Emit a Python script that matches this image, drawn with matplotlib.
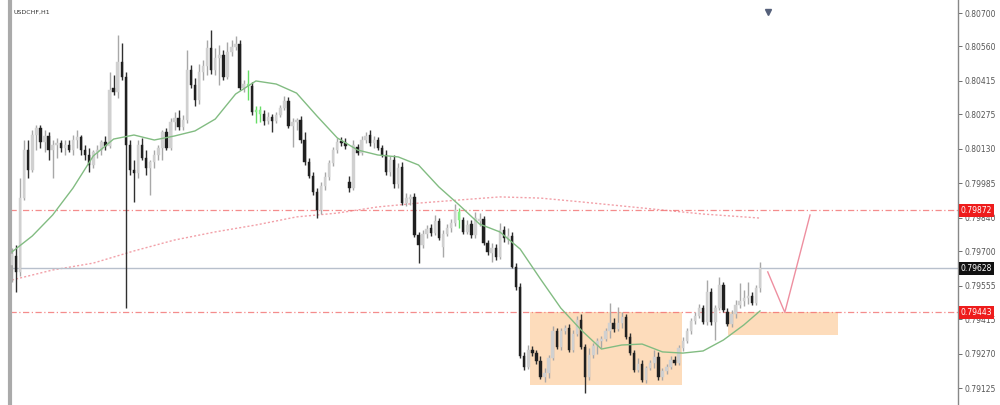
import numpy as np
import matplotlib.pyplot as plt

# USDCHF H1 candles, prices in points (1e-5)
open_pts = [
    79642, 79680, 79613, 79923, 80125, 80041, 80188, 80217, 80159, 80184,
    80125, 80146, 80154, 80133, 80146, 80125, 80167, 80180, 80125, 80104,
    80062, 80117, 80125, 80159, 80142, 80385, 80369, 80495, 80432, 80146,
    80041, 80028, 80146, 80091, 80049, 80075, 80104, 80133, 80201, 80133,
    80243, 80259, 80222, 80251, 80461, 80398, 80335, 80453, 80478, 80553,
    80461, 80511, 80524, 80432, 80537, 80558, 80570, 80385, 80402, 80394,
    80285, 80293, 80276, 80247, 80264, 80247, 80272, 80301, 80331, 80226,
    80243, 80251, 80167, 80075, 80016, 79949, 79873, 79974, 80012, 80070,
    80125, 80163, 80154, 79991, 79965, 80138, 80112, 80167, 80188, 80154,
    80167, 80133, 80104, 80033, 80083, 79982, 80054, 79902, 79919, 79928,
    79768, 79726, 79772, 79797, 79776, 79827, 79718, 79772, 79797, 79818,
    79865, 79831, 79781, 79814, 79768, 79827, 79835, 79734, 79692, 79713,
    79676, 79789, 79747, 79764, 79634, 79550, 79260, 79214, 79285, 79272,
    79239, 79172, 79188, 79251, 79365, 79298, 79365, 79377, 79285, 79352,
    79411, 79298, 79172, 79264, 79302, 79323, 79331, 79365, 79398, 79373,
    79398, 79424, 79340, 79272, 79201, 79226, 79159, 79209, 79230, 79256,
    79172, 79197, 79214, 79243, 79230, 79293, 79323, 79365, 79407, 79428,
    79461, 79403, 79529, 79403, 79461, 79558, 79445, 79395, 79436, 79474,
    79491, 79503, 79512, 79482, 79545,
]
high_pts = [
    79713, 79726, 80007, 80167, 80167, 80209, 80230, 80230, 80209, 80201,
    80167, 80176, 80167, 80167, 80167, 80188, 80209, 80188, 80146, 80133,
    80125, 80146, 80167, 80184, 80453, 80440, 80608, 80574, 80453, 80167,
    80083, 80167, 80176, 80125, 80083, 80125, 80146, 80209, 80217, 80259,
    80285, 80293, 80272, 80545, 80482, 80427, 80486, 80503, 80587, 80629,
    80553, 80566, 80545, 80579, 80587, 80604, 80587, 80419, 80461, 80411,
    80310, 80310, 80293, 80285, 80276, 80285, 80314, 80352, 80348, 80259,
    80259, 80268, 80201, 80091, 80033, 79965, 79991, 80033, 80083, 80138,
    80176, 80180, 80176, 80016, 80167, 80150, 80184, 80201, 80209, 80184,
    80180, 80146, 80125, 80100, 80104, 80070, 80075, 79944, 79940, 79944,
    79781, 79789, 79810, 79814, 79852, 79839, 79789, 79814, 79835, 79898,
    79881, 79844, 79831, 79831, 79865, 79860, 79848, 79747, 79734, 79730,
    79818, 79806, 79797, 79781, 79650, 79566, 79277, 79306, 79302, 79285,
    79260, 79209, 79264, 79386, 79377, 79377, 79390, 79395, 79369, 79428,
    79436, 79310, 79293, 79314, 79335, 79344, 79377, 79482, 79419, 79466,
    79445, 79436, 79356, 79285, 79251, 79243, 79218, 79243, 79285, 79277,
    79209, 79226, 79260, 79260, 79306, 79340, 79377, 79419, 79445, 79478,
    79474, 79579, 79545, 79474, 79592, 79571, 79461, 79453, 79495, 79566,
    79537, 79571, 79529, 79558, 79655,
]
low_pts = [
    79571, 79529, 79596, 79915, 80007, 80033, 80125, 80133, 80117, 80083,
    80007, 80091, 80117, 80104, 80117, 80104, 80133, 80104, 80083, 80033,
    80049, 80091, 80104, 80125, 80133, 80356, 80343, 80419, 79461, 80020,
    79907, 80007, 80083, 80020, 79936, 80049, 80083, 80083, 80125, 80125,
    80209, 80209, 80209, 80238, 80385, 80310, 80318, 80419, 80440, 80444,
    80440, 80398, 80419, 80423, 80520, 80545, 80377, 80369, 80335, 80272,
    80238, 80243, 80230, 80234, 80201, 80238, 80264, 80293, 80217, 80138,
    80209, 80154, 80062, 80007, 79936, 79839, 79856, 79957, 79999, 80058,
    80112, 80142, 80129, 79949, 79957, 80104, 80104, 80154, 80142, 80133,
    80125, 80096, 80020, 80016, 79965, 79965, 79894, 79890, 79894, 79760,
    79650, 79713, 79755, 79764, 79768, 79747, 79676, 79764, 79781, 79806,
    79797, 79772, 79772, 79755, 79755, 79806, 79726, 79684, 79655, 79663,
    79667, 79739, 79730, 79629, 79537, 79251, 79201, 79205, 79260, 79226,
    79163, 79151, 79167, 79243, 79289, 79285, 79352, 79277, 79277, 79344,
    79289, 79104, 79159, 79251, 79268, 79293, 79323, 79335, 79361, 79365,
    79377, 79331, 79264, 79193, 79193, 79151, 79146, 79201, 79209, 79159,
    79159, 79184, 79205, 79222, 79222, 79281, 79314, 79352, 79395, 79419,
    79395, 79390, 79390, 79327, 79453, 79445, 79386, 79382, 79419, 79461,
    79470, 79478, 79474, 79474, 79529,
]
close_pts = [
    79688, 79613, 79923, 80125, 80041, 80188, 80217, 80159, 80184, 80125,
    80146, 80154, 80133, 80146, 80125, 80167, 80180, 80125, 80104, 80062,
    80117, 80125, 80159, 80142, 80377, 80369, 80495, 80432, 80146, 80041,
    80028, 80146, 80091, 80049, 80075, 80104, 80133, 80201, 80133, 80243,
    80259, 80222, 80251, 80461, 80398, 80335, 80453, 80478, 80553, 80461,
    80511, 80524, 80432, 80537, 80558, 80570, 80385, 80402, 80394, 80285,
    80293, 80276, 80247, 80264, 80247, 80272, 80301, 80331, 80226, 80243,
    80251, 80167, 80075, 80016, 79949, 79873, 79974, 80012, 80070, 80125,
    80159, 80154, 80142, 79965, 80146, 80112, 80167, 80184, 80154, 80167,
    80133, 80104, 80033, 80083, 79982, 80049, 79902, 79923, 79928, 79768,
    79726, 79772, 79793, 79776, 79827, 79755, 79772, 79797, 79818, 79873,
    79831, 79781, 79810, 79768, 79839, 79835, 79734, 79697, 79713, 79676,
    79789, 79755, 79764, 79634, 79550, 79260, 79214, 79285, 79272, 79239,
    79172, 79188, 79251, 79365, 79298, 79365, 79377, 79285, 79352, 79411,
    79298, 79172, 79264, 79302, 79323, 79331, 79365, 79398, 79373, 79398,
    79424, 79340, 79272, 79201, 79226, 79159, 79209, 79230, 79256, 79172,
    79197, 79214, 79243, 79230, 79293, 79323, 79365, 79407, 79428, 79461,
    79403, 79529, 79403, 79461, 79558, 79453, 79395, 79436, 79474, 79491,
    79503, 79512, 79482, 79545, 79628,
]
# candles the terminal paints green
green_bars = [58, 60, 61, 110]

# moving averages (bar index, price points)
ma_fast_idx = list(range(0, 181, 5)) + [184]
ma_fast_pts = [
    79697, 79764, 79852, 79965, 80100, 80171, 80188, 80167, 80184, 80205,
    80255, 80360, 80415, 80402, 80364, 80268, 80176, 80125, 80104, 80096,
    80062, 79970, 79894, 79814, 79781, 79709, 79583, 79461, 79369, 79289,
    79306, 79310, 79277, 79272, 79281, 79327, 79390, 79449,
]
ma_slow_idx = list(range(0, 181, 10)) + [184]
ma_slow_pts = [
    79579, 79621, 79650, 79701, 79747, 79781, 79810, 79844, 79860, 79886,
    79902, 79915, 79928, 79923, 79907, 79890, 79873, 79856, 79844, 79839,
]

# drawn objects
resistance = 0.79872
support = 0.79443
last_price = 0.79628
zone1_bars = (127.4, 164.8)
zone1_low = 0.79138
zone2_bars = (176.1, 203.1)
zone2_low = 0.79348
path_bars = [185.9, 190.1, 196.3]
path_prices = [0.79613, 0.79443, 0.79852]

yticks = [0.80700, 0.80560, 0.80415, 0.80275, 0.80130, 0.79985,
          0.79840, 0.79700, 0.79555, 0.79415, 0.79270, 0.79125]

o = np.array(open_pts) / 1e5
h = np.array(high_pts) / 1e5
l = np.array(low_pts) / 1e5
c = np.array(close_pts) / 1e5
x = np.arange(len(c))

fig = plt.figure(figsize=(10, 4.05), dpi=100)
ax = fig.add_axes([0.010, 0.0, 0.948, 1.0])

bull = c >= o
wick_col = np.where(bull, '#a8a8a8', '#303030')
body_col = np.where(bull, '#d0d0d0', '#202020')
wick_col = wick_col.astype(object)
body_col = body_col.astype(object)
for g in green_bars:
    wick_col[g] = '#66dd66'
    body_col[g] = '#88ee88'

ax.vlines(x, l, h, colors=list(wick_col), linewidth=1.0, zorder=3)
bottom = np.minimum(o, c)
height = np.maximum(np.abs(c - o), 0.00002)
ax.bar(x, height, bottom=bottom, width=0.6, color=list(body_col),
       edgecolor=list(body_col), linewidth=0.3, zorder=4)

# moving averages
ax.plot(ma_fast_idx, np.array(ma_fast_pts) / 1e5, color='#82bc82', lw=1.0, zorder=5)
ax.plot(ma_slow_idx, np.array(ma_slow_pts) / 1e5, color='#f2a0a8', lw=1.0,
        ls=(0, (1.5, 1.5)), zorder=2)

# zones
ax.fill_between(zone1_bars, zone1_low, support, color='#fddcbb', lw=0, zorder=1)
ax.fill_between(zone2_bars, zone2_low, support, color='#fddcbb', lw=0, zorder=1)

# levels
for lvl in (resistance, support):
    ax.axhline(lvl, color='#f27070', lw=0.9, ls=(0, (5, 2, 1, 2)), alpha=0.8, zorder=2)
ax.axhline(last_price, color='#b8c0cc', lw=1.0, zorder=2)

# projected path
ax.plot(path_bars, path_prices, color='#ee8fa0', lw=1.0, zorder=5)

ax.set_xlim(-0.49, 232.7)
ax.set_ylim(0.79054, 0.80755)
ax.set_xticks([])
ax.yaxis.tick_right()
ax.set_yticks(yticks)
ax.set_yticklabels(['%.5f' % v for v in yticks])
ax.tick_params(axis='y', labelsize=5.5, colors='#555555', length=3, width=0.6, pad=1.5)
for s in ('top', 'bottom'):
    ax.spines[s].set_visible(False)
ax.spines['left'].set_color('#aaaaaa')
ax.spines['left'].set_linewidth(3)
ax.spines['right'].set_color('#888888')
ax.spines['right'].set_linewidth(1)

# price tags on the scale
tr = ax.get_yaxis_transform()
for val, col in ((resistance, '#ee1c1c'), (support, '#ee1c1c'), (last_price, '#111111')):
    ax.text(1.003, val, '%.5f' % val, transform=tr, fontsize=5.5, color='white',
            va='center', ha='left', clip_on=False, zorder=10,
            bbox=dict(boxstyle='square,pad=0.25', fc=col, ec='none'))

ax.text(0.004, 0.965, 'USDCHF,H1', transform=ax.transAxes, fontsize=4.5, color='#333333')
ax.plot([185.9], [0.80705], marker='v', ms=4, color='#55607a', clip_on=False)

fig.savefig('out.png', dpi=100)
